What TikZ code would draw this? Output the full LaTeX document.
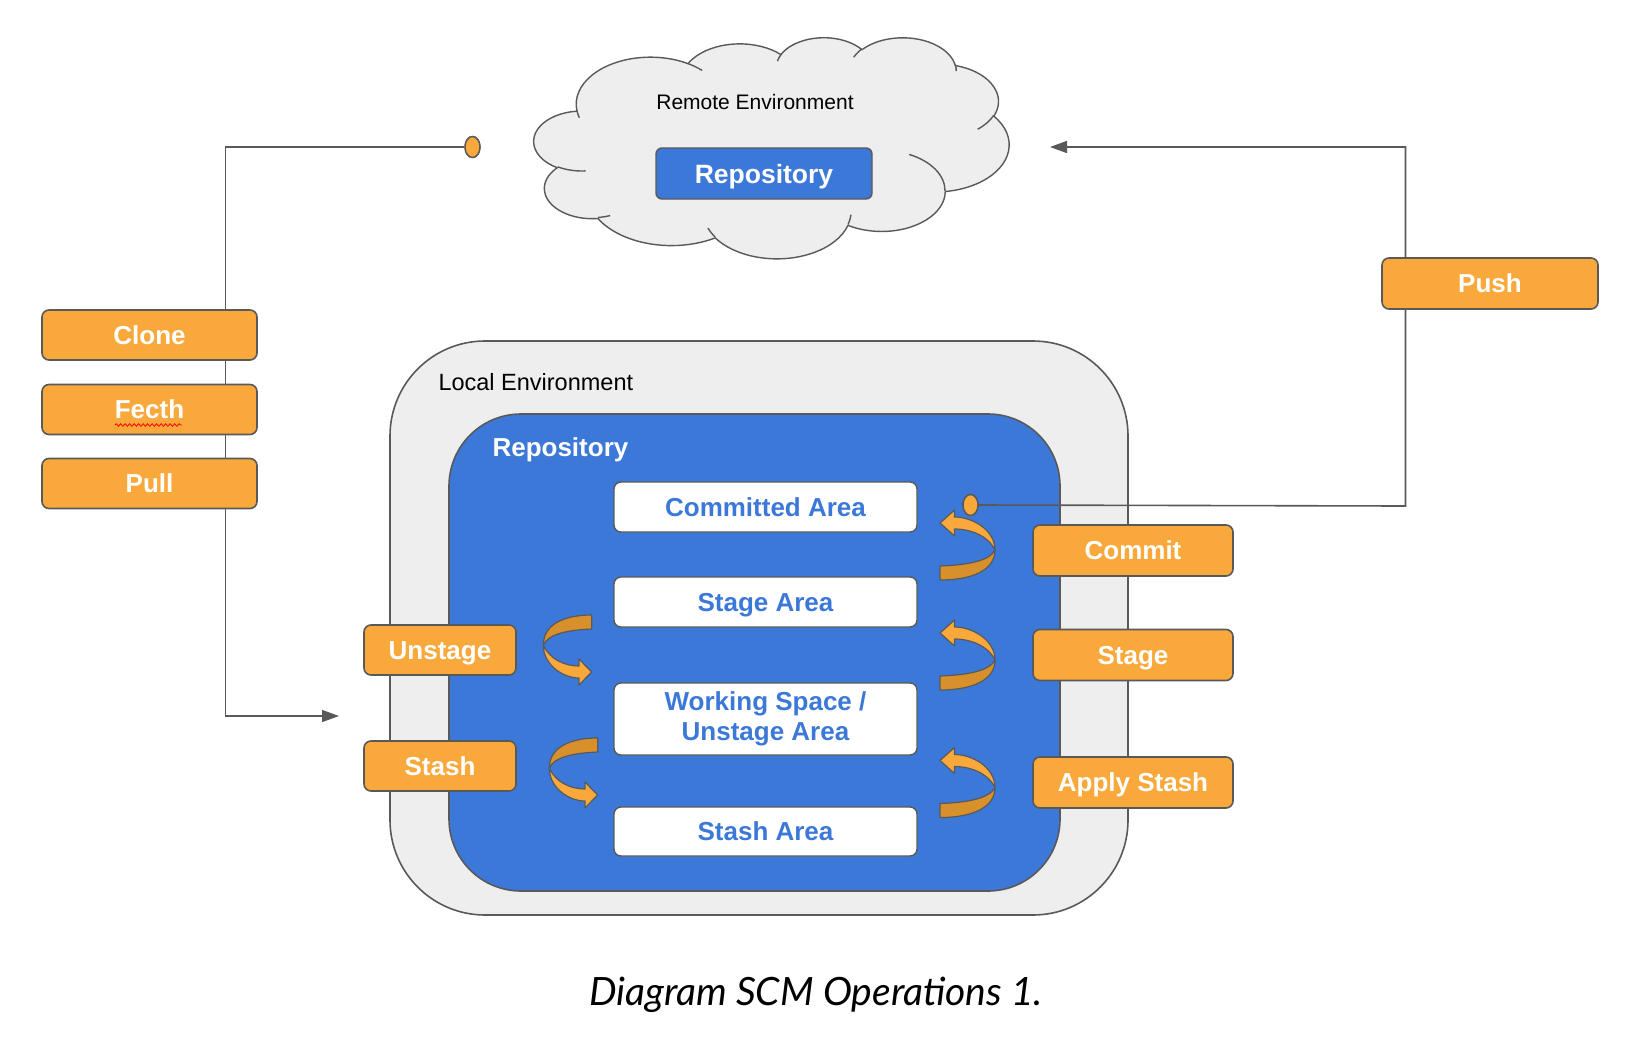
\documentclass[tikz,border=0pt]{standalone}
\usepackage{fontspec}
\setmainfont{Liberation Sans}
\newfontfamily\capfont{Lato}
\usetikzlibrary{shapes.geometric,arrows.meta,decorations.pathmorphing}
\definecolor{orng}{HTML}{F9A93C}
\definecolor{dorng}{HTML}{D8902C}
\definecolor{edge}{HTML}{595959}
\definecolor{blu}{HTML}{3C78D8}
\definecolor{lgray}{HTML}{EEEEEE}
\tikzset{
  ribbon/.pic={
    \filldraw[fill=dorng,draw=edge,line width=1.2pt,line join=round]
      (-27.5,35) .. controls (5,35) and (27.5,25) .. (27.5,5)
      .. controls (22,16) and (0,20) .. (-27.5,21) -- cycle;
    \filldraw[fill=orng,draw=edge,line width=1.2pt,line join=round]
      (27.5,5) .. controls (27.5,-15) and (5,-28) .. (-13,-28)
      -- (-13,-35) -- (-27.5,-22) -- (-13,-9) -- (-13,-16)
      .. controls (2,-16) and (20,-10) .. (27.5,5) -- cycle;
  }
}
\begin{document}
\begin{tikzpicture}[x=1pt,y=-1pt,
  op/.style={draw=edge,fill=orng,rounded corners=7pt,line width=1.6pt,text=white,
    font=\fontsize{26}{30}\selectfont\bfseries,inner sep=0pt,minimum height=50pt,
    text height=18.6pt,text depth=0pt},
  area/.style={draw=edge,fill=white,rounded corners=7pt,line width=1.4pt,text=blu,
    font=\fontsize{26}{30}\selectfont\bfseries,align=center,inner sep=0pt,minimum width=303pt},
  conn/.style={draw=edge,line width=1.6pt},
  tip/.style={-{Triangle[length=17pt,width=12pt]}},
  dot/.style={ellipse,draw=edge,fill=orng,line width=1.4pt,minimum width=15pt,minimum height=21pt,inner sep=0pt},
]
\useasboundingbox[fill=white] (0,0) rectangle (1651,1041);

% cloud (drawn directly)
\begin{scope}[shift={(534pt,-37pt)},x=1.0995pt,y=-0.5116pt]
\filldraw[fill=lgray,draw=edge,line width=1.4pt,line join=round]
  (39,143.7)
  arc[start angle=-187.74,end angle=-59.63,x radius=67.53,y radius=91.90]
  arc[start angle=-152.03,end angle=-45.45,x radius=53.33,y radius=72.67]
  arc[start angle=-153.49,end angle=-37.31,x radius=43.65,y radius=59.45]
  arc[start angle=-139.69,end angle=-10.21,x radius=48.57,y radius=65.95]
  arc[start angle=-74.77,end angle=23.21,x radius=53.33,y radius=72.73]
  arc[start angle=-37.53,end angle=81.86,x radius=67.75,y radius=92.20]
  arc[start angle=0.46,end angle=121.97,x radius=57.85,y radius=78.67]
  arc[start angle=16.84,end angle=146.24,x radius=67.52,y radius=92.15]
  arc[start angle=58.99,end angle=150.19,x radius=77.20,y radius=105.43]
  arc[start angle=83.31,end angle=223.12,x radius=43.60,y radius=59.18]
  arc[start angle=120.36,end angle=264.11,x radius=43.45,y radius=59.45]
  -- cycle;
\draw[edge,line width=1.4pt]
  (46.93,261.77) arc[start angle=85.55,end angle=120.36,x radius=43.45,y radius=59.45]
  (69.28,348.99) arc[start angle=68.24,end angle=83.31,x radius=43.60,y radius=59.18]
  (164.78,390.90) arc[start angle=146.24,end angle=158.47,x radius=67.52,y radius=92.15]
  (288.27,347.51) arc[start angle=4.74,end angle=16.84,x radius=67.52,y radius=92.15]
  (341.29,229.54) arc[start angle=-64.03,end angle=0.46,x radius=57.85,y radius=78.67]
  (417.98,153.54) arc[start angle=23.21,end angle=49.65,x radius=53.33,y radius=72.73]
  (383.24,54.26) arc[start angle=-10.21,end angle=0.81,x radius=48.57,y radius=65.95]
  (290.78,39.52) arc[start angle=-156.28,end angle=-139.69,x radius=48.57,y radius=65.95]
  (221.41,47.20) arc[start angle=-167.73,end angle=-153.49,x radius=43.65,y radius=59.45]
  (140.00,51.92) arc[start angle=-59.63,end angle=-45.74,x radius=67.53,y radius=91.90]
  (41.27,157.89) arc[start angle=163.19,end angle=172.26,x radius=67.53,y radius=91.90];
\end{scope}
\node[font=\fontsize{21}{24}\selectfont] (remote) at (755,102) {Remote Environment};
\node[draw=edge,fill=blu,rounded corners=6pt,line width=1.4pt,text=white,inner sep=0pt,
  minimum width=216pt,minimum height=51pt,text height=19pt,text depth=0pt,
  font=\fontsize{26.5}{30}\selectfont\bfseries] (rrepo) at (764,173.5) {Repository};

% local environment
\node[draw=edge,fill=lgray,line width=1.6pt,rounded corners=95pt,minimum width=738pt,minimum height=574pt,inner sep=0pt] (local) at (759,628) {};
\node[anchor=west,font=\fontsize{23.5}{26}\selectfont] (loclabel) at (435,382) {Local Environment};
\node[draw=edge,fill=blu,line width=1.6pt,rounded corners=72pt,minimum width=611pt,minimum height=477pt,inner sep=0pt] (lrepo) at (754.5,652.5) {};
\node[anchor=west,text=white,font=\fontsize{26}{28}\selectfont\bfseries] (lrepolabel) at (489,450) {Repository};

% areas
\node[area,minimum height=50pt,text height=18.6pt,text depth=0pt] (committed) at (765.5,507) {Committed Area};
\node[area,minimum height=50pt,text height=18.6pt,text depth=0pt] (stagearea) at (765.5,602) {Stage Area};
\node[area,minimum height=72pt,yshift=-2pt] (working) at (765.5,717) {Working Space /\\Unstage Area};
\node[area,minimum height=49pt,text height=18.6pt,text depth=0pt] (stasharea) at (765.5,831.5) {Stash Area};

% curved ribbon arrows
\pic at (967.5,545) {ribbon};
\pic at (967.5,655) {ribbon};
\pic at (967.5,782.5) {ribbon};
\pic[rotate=180,xscale=0.88] at (567.5,650) {ribbon};
\pic[rotate=180,xscale=0.88] at (573.5,773) {ribbon};

% connectors
\node[dot] (dotL) at (472.5,147) {};
\node[dot] (dotR) at (970.5,505) {};
\coordinate (inL) at (339,716);
\coordinate (inR) at (1050,147);
\draw[conn,tip] (dotL.west) -- (225.5,147) -- (225.5,716) -- (inL);
\draw[conn,tip] (dotR.east) -- (1405.5,506) -- (1405.5,147) -- (inR);
\node[dot] at (dotL) {};
\node[dot] at (dotR) {};

% operation boxes
\node[op,minimum width=215pt] (clone) at (149.5,335) {Clone};
\node[op,minimum width=215pt] (fecth) at (149.5,409.5) {Fecth};
\node[op,minimum width=215pt] (pull) at (149.5,483.5) {Pull};
\draw[red,line width=0.8pt,decorate,decoration={zigzag,segment length=4.5pt,amplitude=1.3pt}] (115,425) -- (182,425);
\node[op,minimum width=216pt,minimum height=51pt] (push) at (1490,283.5) {Push};
\node[op,minimum width=200pt,minimum height=51pt] (commit) at (1133,550.5) {Commit};
\node[op,minimum width=200pt,minimum height=51pt] (stage) at (1133,655) {Stage};
\node[op,minimum width=200pt,minimum height=51pt] (apply) at (1133,782.5) {Apply Stash};
\node[op,minimum width=152pt] (unstage) at (440,650) {Unstage};
\node[op,minimum width=152pt] (stash) at (440,766) {Stash};

% caption
\node[font=\capfont\itshape\fontsize{39}{44}\selectfont] (caption) at (816,995) {Diagram SCM Operations 1.};
\end{tikzpicture}
\end{document}
